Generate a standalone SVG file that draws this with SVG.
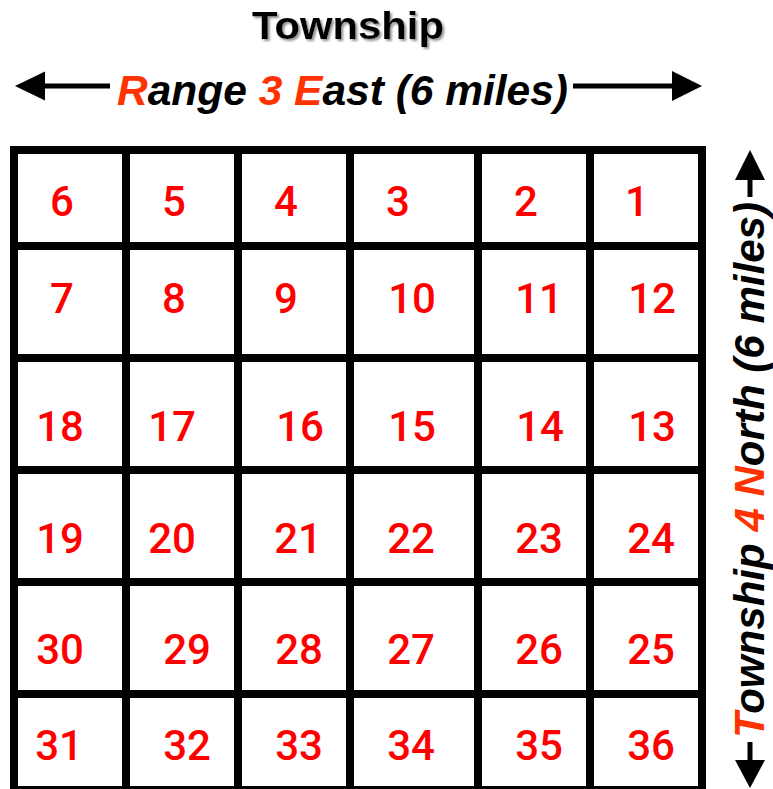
<svg xmlns="http://www.w3.org/2000/svg" width="773" height="789" viewBox="0 0 773 789">
<style>
.num{font-family:Roboto,"Liberation Sans",sans-serif;font-size:42px;font-weight:500;fill:#FF0000;text-anchor:middle}
.lbl{font-family:"Liberation Sans",Arial,sans-serif;font-size:42px;font-weight:bold;font-style:italic;fill:#000}
.hi{fill:#FF3300}
.grid{stroke:#000;stroke-width:8;fill:none}
.arr{stroke:#000;stroke-width:5;fill:none}
.head{fill:#000}
</style>
<defs>
<filter id="shadow" x="-10%" y="-20%" width="130%" height="160%">
<feDropShadow dx="2" dy="2" stdDeviation="1" flood-color="#888" flood-opacity="0.9"/>
</filter>
</defs>
<rect width="773" height="789" fill="#fff"/>
<g id="title">
<text x="252" y="39" font-family="'Liberation Sans',Arial,sans-serif" font-size="38" font-weight="bold" textLength="192" lengthAdjust="spacingAndGlyphs" filter="url(#shadow)">Township</text>
</g>
<g id="range-label">
<text class="lbl" x="117" y="105" textLength="451" lengthAdjust="spacingAndGlyphs"><tspan class="hi">R</tspan>ange <tspan class="hi">3</tspan> <tspan class="hi">E</tspan>ast (6 miles)</text>
</g>
<g id="township-label">
<text class="lbl" transform="translate(764,738) rotate(-90)" x="0" y="0" textLength="536" lengthAdjust="spacingAndGlyphs"><tspan class="hi">T</tspan>ownship <tspan class="hi">4</tspan> <tspan class="hi">N</tspan>orth (6 miles)</text>
</g>
<g id="connectors">
<line class="arr" x1="44" y1="86" x2="110" y2="86"/>
<polygon class="head" points="15,86 45,71.5 45,100.5"/>
<line class="arr" x1="573" y1="86" x2="673" y2="86"/>
<polygon class="head" points="702,86 672,71 672,101"/>
<line class="arr" x1="750" y1="179" x2="750" y2="197" stroke-width="6"/>
<polygon class="head" points="750,150 735,180 765,180"/>
<line class="arr" x1="750" y1="742" x2="750" y2="761" stroke-width="6"/>
<polygon class="head" points="750,788 735,760 765,760"/>
</g>
<g id="grid">
<path class="grid" d="M14 146V794M126 146V794M238 146V794M350 146V794M478 146V794M590 146V794M702 146V794M10 150H706M10 246H706M10 358H706M10 470H706M10 582H706M10 694H706M10 790H706"/>
</g>
<g id="sections">
<g id="s6"><text class="num" x="62" y="216">6</text></g>
<g id="s5"><text class="num" x="174" y="216">5</text></g>
<g id="s4"><text class="num" x="286" y="216">4</text></g>
<g id="s3"><text class="num" x="398" y="216">3</text></g>
<g id="s2"><text class="num" x="526" y="216">2</text></g>
<g id="s1"><text class="num" x="637" y="216">1</text></g>
<g id="s7"><text class="num" x="62" y="313">7</text></g>
<g id="s8"><text class="num" x="174" y="313">8</text></g>
<g id="s9"><text class="num" x="286" y="313">9</text></g>
<g id="s10"><text class="num" x="412" y="313">10</text></g>
<g id="s11"><text class="num" x="539" y="313">11</text></g>
<g id="s12"><text class="num" x="652" y="313">12</text></g>
<g id="s18"><text class="num" x="60" y="441">18</text></g>
<g id="s17"><text class="num" x="172" y="441">17</text></g>
<g id="s16"><text class="num" x="300" y="441">16</text></g>
<g id="s15"><text class="num" x="412" y="441">15</text></g>
<g id="s14"><text class="num" x="540" y="441">14</text></g>
<g id="s13"><text class="num" x="652" y="441">13</text></g>
<g id="s19"><text class="num" x="60" y="553">19</text></g>
<g id="s20"><text class="num" x="172" y="553">20</text></g>
<g id="s21"><text class="num" x="298" y="553">21</text></g>
<g id="s22"><text class="num" x="411" y="553">22</text></g>
<g id="s23"><text class="num" x="539" y="553">23</text></g>
<g id="s24"><text class="num" x="651" y="553">24</text></g>
<g id="s30"><text class="num" x="60" y="664">30</text></g>
<g id="s29"><text class="num" x="187" y="664">29</text></g>
<g id="s28"><text class="num" x="299" y="664">28</text></g>
<g id="s27"><text class="num" x="411" y="664">27</text></g>
<g id="s26"><text class="num" x="539" y="664">26</text></g>
<g id="s25"><text class="num" x="651" y="664">25</text></g>
<g id="s31"><text class="num" x="59" y="760">31</text></g>
<g id="s32"><text class="num" x="187" y="760">32</text></g>
<g id="s33"><text class="num" x="299" y="760">33</text></g>
<g id="s34"><text class="num" x="411" y="760">34</text></g>
<g id="s35"><text class="num" x="539" y="760">35</text></g>
<g id="s36"><text class="num" x="651" y="760">36</text></g>
</g>
</svg>
